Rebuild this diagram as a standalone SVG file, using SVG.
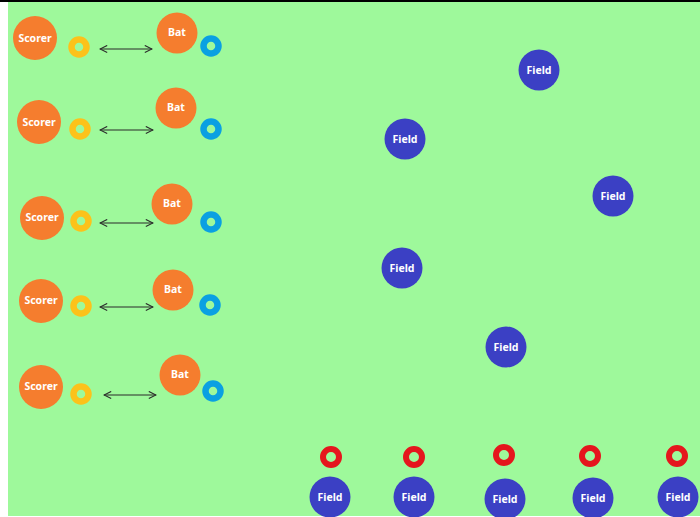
<svg xmlns="http://www.w3.org/2000/svg" width="700" height="517" viewBox="0 0 700 517">
  <style>
    .lbl { font-family: "Noto Sans", "Open Sans", "DejaVu Sans", sans-serif; font-weight: bold; fill: #ffffff; text-anchor: middle; dominant-baseline: central; }
    .scorer { fill: #f57d2e; }
    .bat { fill: #f57d2e; }
    .field { fill: #3b40c4; }
    .ring-y { fill: none; stroke: #fcc21a; stroke-width: 6.5; }
    .ring-b { fill: none; stroke: #0aa0e2; stroke-width: 6.5; }
    .ring-r { fill: none; stroke: #e5161d; stroke-width: 6; }
    .link { stroke: #2a2a2a; stroke-width: 1.2; fill: none; marker-start: url(#headL); marker-end: url(#headR); }
  </style>
  <defs>
    <marker id="headR" viewBox="0 0 10 10" refX="9" refY="5" markerWidth="9" markerHeight="9" markerUnits="userSpaceOnUse" orient="auto">
      <path d="M1,1 L9,5 L1,9" fill="none" stroke="#2a2a2a" stroke-width="1.2"/>
    </marker>
    <marker id="headL" viewBox="0 0 10 10" refX="1" refY="5" markerWidth="9" markerHeight="9" markerUnits="userSpaceOnUse" orient="auto">
      <path d="M9,1 L1,5 L9,9" fill="none" stroke="#2a2a2a" stroke-width="1.2"/>
    </marker>
  </defs>

  <!-- pitch -->
  <rect x="0" y="0" width="700" height="517" fill="#ffffff"/>
  <rect x="8" y="2" width="692" height="514" fill="#9ef99b"/>
  <rect x="0" y="0" width="700" height="2" fill="#000000"/>

  <!-- connectors -->
  <g id="connectors">
    <line class="link" x1="100" y1="49" x2="152" y2="49"/>
    <line class="link" x1="100" y1="130" x2="153" y2="130"/>
    <line class="link" x1="100" y1="223" x2="153" y2="223"/>
    <line class="link" x1="100" y1="307" x2="153" y2="307"/>
    <line class="link" x1="104" y1="395" x2="156" y2="395"/>
  </g>

  <!-- scorers -->
  <g id="scorer1"><circle class="scorer" cx="35" cy="38" r="22"/><text class="lbl" x="35" y="38" font-size="10.5">Scorer</text></g>
  <g id="scorer2"><circle class="scorer" cx="39" cy="122" r="22"/><text class="lbl" x="39" y="122" font-size="10.5">Scorer</text></g>
  <g id="scorer3"><circle class="scorer" cx="42" cy="218" r="22"/><text class="lbl" x="42" y="217" font-size="10.5">Scorer</text></g>
  <g id="scorer4"><circle class="scorer" cx="41" cy="301" r="22"/><text class="lbl" x="41" y="300" font-size="10.5">Scorer</text></g>
  <g id="scorer5"><circle class="scorer" cx="41" cy="387" r="22"/><text class="lbl" x="41" y="386" font-size="10.5">Scorer</text></g>

  <!-- scorer markers -->
  <g id="mark-y1"><circle class="ring-y" cx="79" cy="47" r="7.5"/></g>
  <g id="mark-y2"><circle class="ring-y" cx="80" cy="129" r="7.5"/></g>
  <g id="mark-y3"><circle class="ring-y" cx="81" cy="221" r="7.5"/></g>
  <g id="mark-y4"><circle class="ring-y" cx="81" cy="306" r="7.5"/></g>
  <g id="mark-y5"><circle class="ring-y" cx="81" cy="394" r="7.5"/></g>

  <!-- batters -->
  <g id="bat1"><circle class="bat" cx="177" cy="33" r="20.5"/><text class="lbl" x="177" y="32" font-size="10.5">Bat</text></g>
  <g id="bat2"><circle class="bat" cx="176" cy="108" r="20.5"/><text class="lbl" x="176" y="107" font-size="10.5">Bat</text></g>
  <g id="bat3"><circle class="bat" cx="172" cy="204" r="20.5"/><text class="lbl" x="172" y="203" font-size="10.5">Bat</text></g>
  <g id="bat4"><circle class="bat" cx="173" cy="290" r="20.5"/><text class="lbl" x="173" y="289" font-size="10.5">Bat</text></g>
  <g id="bat5"><circle class="bat" cx="180" cy="375" r="20.5"/><text class="lbl" x="180" y="374" font-size="10.5">Bat</text></g>

  <!-- batter markers -->
  <g id="mark-b1"><circle class="ring-b" cx="211" cy="46" r="7.5"/></g>
  <g id="mark-b2"><circle class="ring-b" cx="211" cy="129" r="7.5"/></g>
  <g id="mark-b3"><circle class="ring-b" cx="211" cy="222" r="7.5"/></g>
  <g id="mark-b4"><circle class="ring-b" cx="210" cy="305" r="7.5"/></g>
  <g id="mark-b5"><circle class="ring-b" cx="213" cy="391" r="7.5"/></g>

  <!-- fielders spread over the field -->
  <g id="field1"><circle class="field" cx="539" cy="70" r="20.5"/><text class="lbl" x="539" y="70" font-size="10.5">Field</text></g>
  <g id="field2"><circle class="field" cx="405" cy="139" r="20.5"/><text class="lbl" x="405" y="139" font-size="10.5">Field</text></g>
  <g id="field3"><circle class="field" cx="613" cy="196" r="20.5"/><text class="lbl" x="613" y="196" font-size="10.5">Field</text></g>
  <g id="field4"><circle class="field" cx="402" cy="268" r="20.5"/><text class="lbl" x="402" y="268" font-size="10.5">Field</text></g>
  <g id="field5"><circle class="field" cx="506" cy="347" r="20.5"/><text class="lbl" x="506" y="347" font-size="10.5">Field</text></g>

  <!-- fielders along the bottom line -->
  <g id="field6"><circle class="field" cx="330" cy="497" r="20.5"/><text class="lbl" x="330" y="497" font-size="10.5">Field</text></g>
  <g id="field7"><circle class="field" cx="414" cy="497" r="20.5"/><text class="lbl" x="414" y="497" font-size="10.5">Field</text></g>
  <g id="field8"><circle class="field" cx="505" cy="499" r="20.5"/><text class="lbl" x="505" y="499" font-size="10.5">Field</text></g>
  <g id="field9"><circle class="field" cx="593" cy="498" r="20.5"/><text class="lbl" x="593" y="498" font-size="10.5">Field</text></g>
  <g id="field10"><circle class="field" cx="678" cy="497" r="20.5"/><text class="lbl" x="678" y="497" font-size="10.5">Field</text></g>

  <!-- fielder markers -->
  <g id="mark-r1"><circle class="ring-r" cx="331" cy="457" r="8"/></g>
  <g id="mark-r2"><circle class="ring-r" cx="414" cy="457" r="8"/></g>
  <g id="mark-r3"><circle class="ring-r" cx="504" cy="455" r="8"/></g>
  <g id="mark-r4"><circle class="ring-r" cx="590" cy="456" r="8"/></g>
  <g id="mark-r5"><circle class="ring-r" cx="677" cy="456" r="8"/></g>
</svg>
